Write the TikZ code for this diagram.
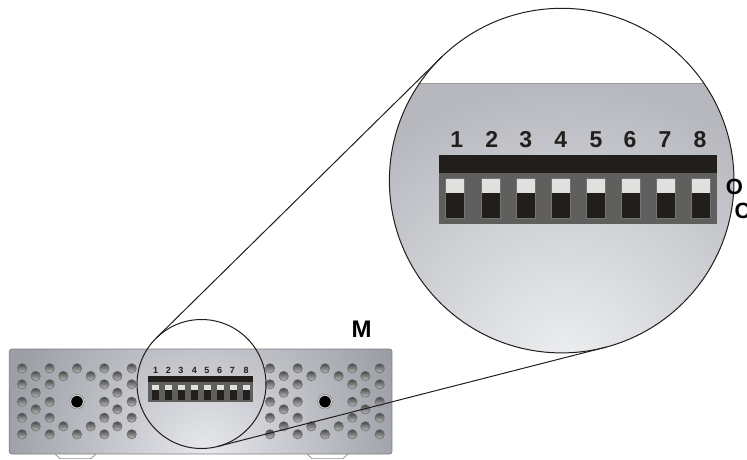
\documentclass[tikz,border=0pt]{standalone}
\usepackage{fontspec}
\setmainfont{Liberation Sans}
\definecolor{barblack}{HTML}{221E1C}
\definecolor{bodygray}{HTML}{5F5F5D}
\definecolor{keywhite}{HTML}{E0E0DE}
\definecolor{panelout}{HTML}{9C9EA6}
\definecolor{panelin}{HTML}{E6E8EC}
\definecolor{viewout}{HTML}{B6B8BE}
\definecolor{viewin}{HTML}{EEEFF1}
\tikzset{
  lens/.style={circle, draw=barblack, line width=1pt, inner sep=0pt, outer sep=0pt},
  leader/.style={draw=barblack, line width=1pt},
  hole/.style={top color=black!72, bottom color=black!25, draw=black!60, line width=0.5pt},
  foot/.style={draw=black!45, fill=white, line width=0.7pt},
  bignum/.style={font=\fontsize{23}{23}\selectfont\bfseries, text=barblack, inner sep=0pt, anchor=base},
  smallnum/.style={font=\fontsize{9}{9}\selectfont\bfseries, text=barblack, inner sep=0pt, anchor=base},
  mark letter/.style={font=\fontsize{24}{24}\selectfont\bfseries, text=black, inner sep=0pt}
}
\begin{document}
\begin{tikzpicture}[x=1pt, y=-1pt]
\useasboundingbox (0,0) rectangle (747,459);

% feet under the panel
\draw[foot] (54,453) -- (60,458.6) -- (91,458.6) -- (97,453);
\draw[foot] (306,453) -- (312,458.6) -- (343,458.6) -- (349,453);

% front panel
\begin{scope}
\clip[rounded corners=2.5pt] (9.3,349) rectangle (392,454);
\fill[panelout] (9.3,349) rectangle (392,454);
\shade[inner color=panelin, outer color=panelout] (205,452) circle (205pt);
\end{scope}
\draw[draw=black!50, line width=0.7pt, rounded corners=2.5pt] (9.3,349) rectangle (392,454);

% holes of the panel
\foreach \s in {0,248} {
  \foreach \x/\y in {22/368.3,49.7/368.3,77/368.3,104.3/368.3,131.7/368.3,
    35.7/376,63.3/376,90.7/376,117.3/376,
    22/384.3,49.7/384.3,104.3/384.3,131.7/384.3,
    35.7/392.7,117.3/392.7,
    22/401.7,49.7/401.7,104.3/401.7,131.7/401.7,
    35.7/409.3,117.3/409.3,
    22/417.7,49.7/417.7,104.3/417.7,131.7/417.7,
    35.7/426.3,63.3/426.3,90.7/426.3,117.3/426.3,
    22/434.3,49.7/434.3,77/434.3,104.3/434.3,131.7/434.3} {
    \shade[hole] (\x+\s,\y) circle (4.7pt);
  }
  \fill[black!15] (77+\s,401.7) circle (8pt);
  \draw[black!55, line width=0.6pt] (77+\s,401.7) circle (7.4pt);
  \fill[black] (77+\s,401.7) circle (5.8pt);
}

% small switch block
\fill[bodygray] (148.3,382) rectangle (252.7,402.3);
\fill[barblack] (148.3,375.7) rectangle (252.7,382.3);
\foreach \x in {151.7,165,177.7,190.7,204,216.7,230,243.3} {
  \fill[barblack] (\x,390) rectangle (\x+7,400);
  \fill[keywhite] (\x,384.7) rectangle (\x+7,390);
}
\foreach \x/\n in {155.7/1,168.3/2,181/3,194.3/4,207/5,219.7/6,232.3/7,246/8} {
  \node[smallnum] (small\n) at (\x,373.2) {\n};
}

% enlarged view
\begin{scope}
\clip (561.7,180.6) circle (172.3pt);
\fill[viewout] (380,83) rectangle (747,360);
\shade[inner color=viewin, outer color=viewout] (565,365) circle (285pt);
\fill[white] (380,0) rectangle (747,83);
\draw[black!40, line width=0.8pt] (380,83.3) -- (747,83.3);
\end{scope}
\fill[bodygray] (438.7,172) rectangle (716.7,224);
\fill[barblack] (438.7,155) rectangle (716.7,172.7);
\foreach \x in {445,481,516,551,586,621,656,691.7} {
  \fill[barblack] (\x,193.3) rectangle (\x+19,218.7);
  \fill[keywhite] (\x,178.3) rectangle (\x+19,193.3);
  \draw[black!55, line width=0.5pt] (\x,178.3) rectangle (\x+19,218.7);
}
\foreach \x/\n in {456.7/1,491.7/2,525.7/3,560.7/4,596/5,630/6,665/7,700/8} {
  \node[bignum] (big\n) at (\x,147.3) {\n};
}

% the two circles and their leaders
\node[lens, minimum size=129pt] (lenssmall) at (201.5,384) {};
\node[lens, minimum size=344.6pt] (lensbig) at (561.7,180.6) {};
\draw[leader] (lenssmall.134.55) -- (lensbig.134.55);
\draw[leader] (lenssmall.-75.65) -- (lensbig.-75.65);

% letters
\node[mark letter] (markM) at (361.7,329.5) {M};
\node[mark letter, font=\fontsize{22}{22}\selectfont\bfseries] (markO) at (734.5,187) {O};
\node[mark letter, font=\fontsize{22}{22}\selectfont\bfseries, anchor=west] (markC) at (734.5,211) {C};
\end{tikzpicture}
\end{document}
